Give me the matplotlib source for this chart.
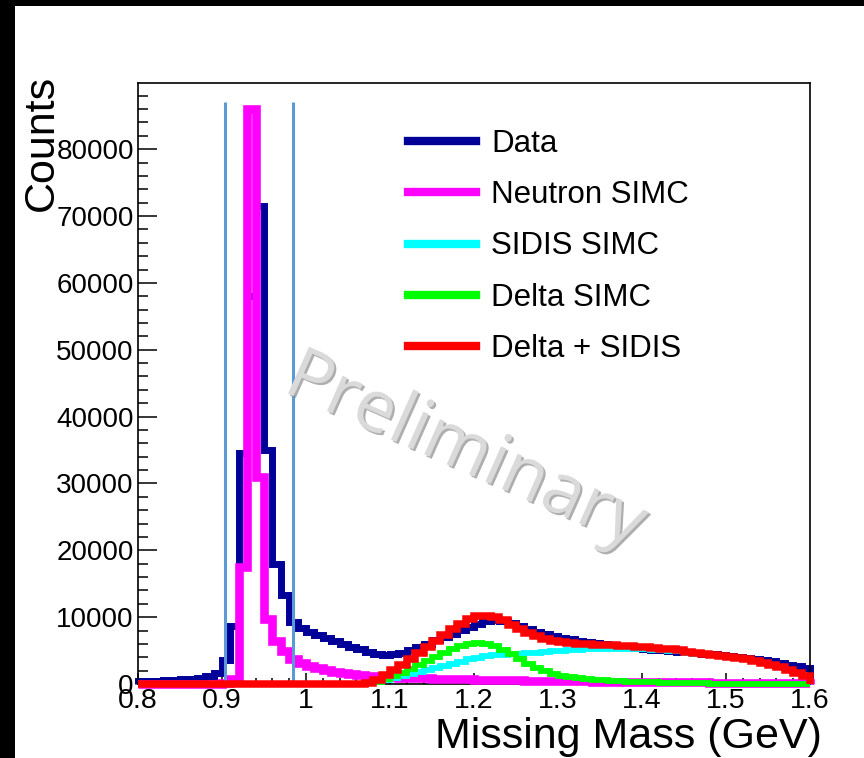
import numpy as np
import matplotlib.pyplot as plt
from matplotlib.lines import Line2D
from matplotlib.patches import Rectangle
from matplotlib.ticker import MultipleLocator
import matplotlib.patheffects as pe

plt.rcParams['font.family'] = ['Liberation Sans', 'DejaVu Sans']

# 0.01 GeV bins from 0.80 to 1.60
edges = np.linspace(0.80, 1.60, 81)

data = [400, 450, 500, 550, 600, 700, 800, 950, 1200, 1600,
        3600, 8700, 34500, 58000, 71500, 35000, 18000, 13300, 9300, 8400,
        7800, 7300, 6850, 6400, 6000, 5600, 5200, 4850, 4550, 4400,
        4450, 4700, 5100, 5550, 6050, 6550, 7050, 7550, 8050, 8550,
        9000, 9350, 9550, 9450, 9150, 8750, 8300, 7850, 7450, 7150,
        6900, 6700, 6500, 6300, 6100, 5950, 5800, 5650, 5500, 5380,
        5260, 5150, 5050, 4950, 4850, 4750, 4650, 4550, 4450, 4350,
        4250, 4100, 3950, 3800, 3600, 3400, 3150, 2900, 2650, 2400]

neutron = [0, 0, 0, 0, 0, 0, 0, 0, 0, 0,
           100, 800, 17500, 86000, 31000, 9700, 6400, 4900, 3800, 3200,
           2700, 2350, 2100, 1850, 1650, 1500, 1350, 1250, 1150, 1080,
           1020, 970, 920, 880, 840, 800, 770, 740, 710, 680,
           650, 620, 600, 580, 560, 540, 520, 500, 480, 460,
           440, 420, 400, 390, 370, 360, 340, 330, 320, 310,
           300, 290, 280, 270, 260, 250, 240, 230, 220, 210,
           200, 195, 190, 185, 180, 175, 170, 165, 160, 150]

sidis = [0, 0, 0, 0, 0, 0, 0, 0, 0, 0,
         0, 0, 0, 0, 0, 0, 0, 0, 0, 0,
         0, 0, 0, 0, 0, 0, 0, 100, 300, 600,
         900, 1200, 1500, 1800, 2100, 2400, 2700, 3000, 3300, 3700,
         3950, 4150, 4300, 4350, 4420, 4500, 4600, 4700, 4800, 4900,
         5000, 5080, 5150, 5200, 5250, 5280, 5300, 5300, 5280, 5250,
         5200, 5150, 5080, 5000, 4920, 4650, 4550, 4450, 4330, 4200,
         4050, 3880, 3680, 3450, 3200, 2900, 2550, 2150, 1700, 1250]

delta = [0, 0, 0, 0, 0, 0, 0, 0, 0, 0,
         0, 0, 0, 0, 0, 0, 0, 0, 0, 0,
         0, 0, 0, 0, 0, 0, 0, 100, 300, 700,
         1200, 1700, 2300, 2900, 3500, 4100, 4700, 5200, 5650, 6000,
         6150, 6050, 5700, 5150, 4450, 3750, 3050, 2450, 1950, 1550,
         1250, 1020, 850, 720, 620, 540, 470, 410, 360, 310,
         270, 230, 200, 170, 140, 120, 100, 80, 60, 50,
         40, 30, 20, 15, 10, 5, 0, 0, 0, 0]

delta_sidis = np.array(delta) + np.array(sidis)

cut_lo, cut_hi = 0.903, 0.984
cut_top = 87000

xticks = [0.8, 0.9, 1.0, 1.1, 1.2, 1.3, 1.4, 1.5, 1.6]
xtick_labels = ['0.8', '0.9', '1', '1.1', '1.2', '1.3', '1.4', '1.5', '1.6']
yticks = [0, 10000, 20000, 30000, 40000, 50000, 60000, 70000, 80000]

W, H = 864, 758
fig = plt.figure(figsize=(W / 100, H / 100), dpi=100, facecolor='black')
fig.patches.append(Rectangle((15 / W, 0), 1, 1 - 6 / H, transform=fig.transFigure,
                             facecolor='white', edgecolor='none', zorder=-10))
ax = fig.add_axes([138 / W, 1 - 684 / H, (810 - 138) / W, (684 - 83) / H])

ax.stairs(data, edges, color='#000099', lw=5, zorder=2, clip_on=False)
ax.stairs(neutron, edges, color='#ff00ff', lw=6.2, zorder=3, clip_on=False)
ax.vlines([cut_lo, cut_hi], 0, cut_top, color='#5b9bd5', lw=2.2, zorder=3.5)
ax.stairs(sidis, edges, color='#00ffff', lw=4.2, zorder=4, clip_on=False)
ax.stairs(delta, edges, color='#00ff00', lw=4.2, zorder=5, clip_on=False)
ax.stairs(delta_sidis, edges, color='#ff0000', lw=5.4, zorder=6, clip_on=False)

ax.set_xlim(0.8, 1.6)
ax.set_ylim(0, 89900)
ax.set_xticks(xticks)
ax.set_xticklabels(xtick_labels)
ax.set_yticks(yticks)
ax.set_yticklabels([str(v) for v in yticks])
ax.xaxis.set_minor_locator(MultipleLocator(0.02))
ax.yaxis.set_minor_locator(MultipleLocator(2000))
ax.tick_params(axis='x', which='major', direction='in', length=8, width=1.1,
               labelsize=20.5, pad=3)
ax.tick_params(axis='x', which='minor', direction='in', length=4, width=1.1)
ax.tick_params(axis='y', which='major', direction='in', length=14, width=1.1,
               labelsize=20, pad=3)
ax.tick_params(axis='y', which='minor', direction='in', length=7, width=1.1)
for s in ax.spines.values():
    s.set_linewidth(1.2)

fig.text(822 / W, 1 - 748 / H, 'Missing Mass (GeV)', fontsize=31,
         ha='right', va='baseline')
fig.text(53 / W, 1 - 75 / H, 'Counts', fontsize=31, rotation=90,
         rotation_mode='anchor', ha='right', va='baseline')

labels = ['Data', 'Neutron SIMC', 'SIDIS SIMC', 'Delta SIMC', 'Delta + SIDIS']
colors = ['#000099', '#ff00ff', '#00ffff', '#00ff00', '#ff0000']
handles = [Line2D([], [], color=c, lw=6) for c in colors]
fig.legend(handles, labels, loc='upper left',
           bbox_to_anchor=(408 / W, 1 - 129 / H), frameon=False,
           fontsize=22.5, handlelength=2.18, handletextpad=0.48,
           labelspacing=0.68, borderpad=0, borderaxespad=0)

fig.text(465 / W, 1 - 452 / H, 'Preliminary', fontsize=52, family='Open Sans',
         color='#dadada', rotation=-24, rotation_mode='anchor',
         ha='center', va='center', zorder=10,
         path_effects=[pe.SimplePatchShadow(offset=(1.5, -1.5), shadow_rgbFace='#8c8c8c', alpha=0.7),
                       pe.Normal()])

fig.savefig('out.png', dpi=100, facecolor=fig.get_facecolor())
